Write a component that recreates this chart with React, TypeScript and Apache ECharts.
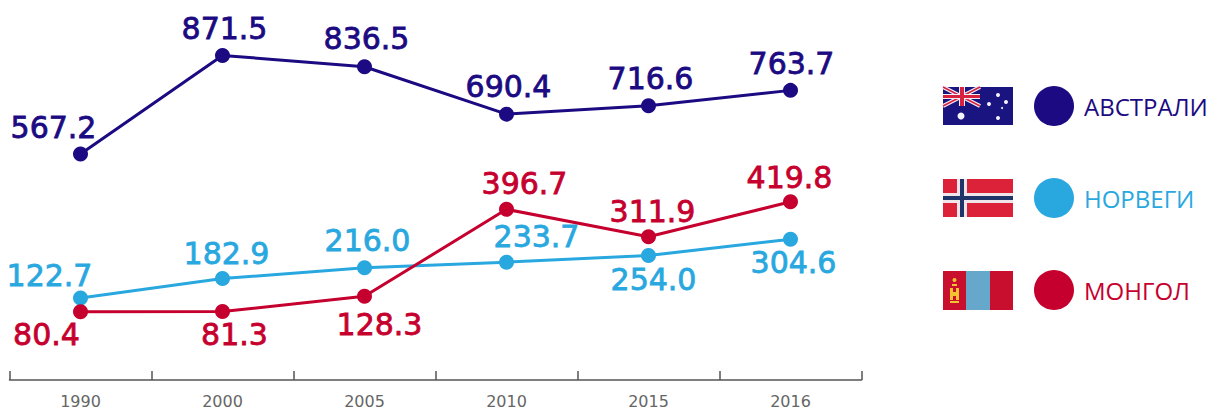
import React, { useEffect, useRef } from "react";
import * as echarts from "echarts";

const categories = ["1990", "2000", "2005", "2010", "2015", "2016"];
const australia = [567.2, 871.5, 836.5, 690.4, 716.6, 763.7];
const norway = [122.7, 182.9, 216.0, 233.7, 254.0, 304.6];
const mongolia = [80.4, 81.3, 128.3, 396.7, 311.9, 419.8];

const NAVY = "#1b0a82";
const BLUE = "#29a8e0";
const RED = "#c6002e";

const auOffsets = [[-27, -27], [2, -27], [2, -28], [2, -28], [2, -27], [1, -27]];
const noOffsets = [[-31, -23], [4, -25], [3, -27], [30, -26], [5, 24], [3, 23]];
const moOffsets = [[-34, 23], [12, 23], [15, 28], [18, -26], [4, -25], [-1, -24]];

const makeSeries = (name: string, values: number[], color: string, offsets: number[][]) => ({
  name,
  type: "line",
  symbol: "circle",
  symbolSize: 15,
  showSymbol: true,
  lineStyle: { color, width: 3 },
  itemStyle: { color },
  z: name === "МОНГОЛ" ? 4 : 3,
  data: values.map((value, i) => ({
    value,
    label: {
      show: true,
      position: "inside",
      offset: offsets[i],
      align: "center",
      verticalAlign: "middle",
      formatter: value.toFixed(1),
      color,
      fontSize: 30,
      fontFamily: "DejaVu Sans",
      textBorderColor: color,
      textBorderWidth: 0.8,
    },
  })),
});

const rect = (x: number, y: number, width: number, height: number, fill: string) => ({
  type: "rect",
  shape: { x, y, width, height },
  style: { fill },
});
const dot = (cx: number, cy: number, r: number, fill = "#f4f2fa") => ({
  type: "circle",
  shape: { cx, cy, r },
  style: { fill },
});
const bar = (x1: number, y1: number, x2: number, y2: number, stroke: string, lineWidth: number) => ({
  type: "line",
  shape: { x1, y1, x2, y2 },
  style: { stroke, lineWidth },
});

const flags = [
  rect(943, 87, 70, 38, "#1a1480"),
  bar(943, 87, 980, 106, "#f2eef6", 4),
  bar(980, 87, 943, 106, "#f2eef6", 4),
  bar(943, 87, 980, 106, "#d8203f", 1.5),
  bar(980, 87, 943, 106, "#d8203f", 1.5),
  rect(959, 87, 6, 19, "#f2eef6"),
  rect(943, 94, 37, 5, "#f2eef6"),
  rect(960, 87, 4, 19, "#d8203f"),
  rect(943, 95, 37, 3, "#d8203f"),
  dot(961, 116, 3.5),
  dot(998, 95, 2),
  dot(989, 104, 2),
  dot(1006, 102, 2),
  dot(1002, 108, 1),
  dot(998, 118, 2),
  rect(943, 179, 70, 38, "#dc2238"),
  rect(957, 179, 10, 38, "#f0e6ea"),
  rect(943, 193, 70, 10, "#f0e6ea"),
  rect(960, 179, 4, 38, "#1f3468"),
  rect(943, 196, 70, 4, "#1f3468"),
  rect(943, 271, 23, 39, "#c8102e"),
  rect(966, 271, 24, 39, "#65a8cc"),
  rect(990, 271, 23, 39, "#c8102e"),
  dot(954.5, 280, 2, "#f4c430"),
  rect(952, 284, 5, 2, "#f4c430"),
  rect(950, 288, 3, 12, "#f4c430"),
  rect(956, 288, 3, 12, "#f4c430"),
  rect(953, 292, 3, 4, "#f4c430"),
  rect(950, 301, 9, 2, "#f4c430"),
];

export default function App() {
  const ref = useRef<HTMLDivElement>(null);
  useEffect(() => {
    const chart = echarts.init(ref.current!, null, { renderer: "svg" });
    chart.setOption({
      animation: false,
      backgroundColor: "#ffffff",
      grid: { left: 9.5, right: 349.5, top: 30, bottom: 32 },
      xAxis: {
        type: "category",
        data: categories,
        boundaryGap: true,
        axisLine: { onZero: false, lineStyle: { color: "#555555", width: 1.5 } },
        axisTick: { show: true, inside: true, length: 9, alignWithLabel: false, lineStyle: { color: "#555555", width: 1.5 } },
        axisLabel: { color: "#666666", fontSize: 16, fontFamily: "DejaVu Sans", margin: 13 },
      },
      yAxis: { type: "value", min: -130, max: 950, show: false, splitLine: { show: false } },
      legend: {
        orient: "vertical",
        left: 1029,
        top: 81,
        itemWidth: 40,
        itemHeight: 40,
        itemGap: 52,
        icon: "circle",
        selectedMode: false,
        data: [
          { name: "АВСТРАЛИ", textStyle: { color: NAVY } },
          { name: "НОРВЕГИ", textStyle: { color: BLUE } },
          { name: "МОНГОЛ", textStyle: { color: RED } },
        ],
        textStyle: { fontSize: 24, fontWeight: 500, fontFamily: "Open Sans", padding: [0, 0, 0, 5] },
      },
      series: [
        makeSeries("АВСТРАЛИ", australia, NAVY, auOffsets),
        makeSeries("НОРВЕГИ", norway, BLUE, noOffsets),
        makeSeries("МОНГОЛ", mongolia, RED, moOffsets),
      ],
      graphic: { elements: [{ type: "group", silent: true, children: flags }] },
    });
    return () => chart.dispose();
  }, []);
  return <div ref={ref} style={{ position: "fixed", left: 0, top: 0, width: 1211, height: 412 }} />;
}
